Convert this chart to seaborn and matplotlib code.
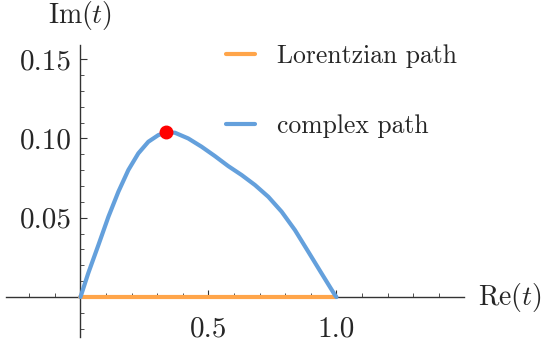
import numpy as np
import pandas as pd
import matplotlib
matplotlib.use("Agg")
import matplotlib.pyplot as plt
import seaborn as sns

# Curve
re_t = [0.0, 0.030, 0.070, 0.109, 0.148, 0.187, 0.226, 0.265, 0.304, 0.334, 0.369,
        0.421, 0.473, 0.525, 0.577, 0.630, 0.682, 0.734, 0.786, 0.838, 0.890,
        0.942, 0.994, 1.0]
im_t = [0.0, 0.0149, 0.0328, 0.0506, 0.0664, 0.0801, 0.0906, 0.0979, 0.1021, 0.1038,
        0.1036, 0.1000, 0.0948, 0.0889, 0.0826, 0.0769, 0.0706, 0.0632, 0.0538,
        0.0422, 0.0286, 0.0149, 0.0013, 0.0]
lor_re = [0.0, 1.0]
lor_im = [0.0, 0.0]
peak = (0.334, 0.1038)

xticks = [0.5, 1.0]
xticklabels = ["0.5", "1.0"]
yticks = [0.05, 0.10, 0.15]
yticklabels = ["0.05", "0.10", "0.15"]

sns.set_style("white")
plt.rcParams["font.family"] = ["cmr10", "DejaVu Serif"]
plt.rcParams["mathtext.fontset"] = "cm"
plt.rcParams["axes.formatter.use_mathtext"] = True

fig = plt.figure(figsize=(5.46, 3.47), dpi=100)
ax = fig.add_axes([0.0115, 0.0297, 0.839, 0.841])

orange = "#FFA54A"
blue = "#64A0DC"

lor = pd.DataFrame({"x": lor_re, "y": lor_im})
cpx = pd.DataFrame({"x": re_t, "y": im_t})
sns.lineplot(data=lor, x="x", y="y", ax=ax, color=orange, lw=3,
             label="Lorentzian path", sort=False, zorder=3)
sns.lineplot(data=cpx, x="x", y="y", ax=ax, color=blue, lw=3,
             label="complex path", sort=False, zorder=4,
             solid_joinstyle="round", solid_capstyle="round")
ax.plot([peak[0]], [peak[1]], "o", color="#FF0000", ms=9, zorder=5)

ax.set_xlim(-0.29, 1.5)
ax.set_ylim(-0.025, 0.159)

for s in ["top", "right"]:
    ax.spines[s].set_visible(False)
for s in ["left", "bottom"]:
    ax.spines[s].set_position(("data", 0))
    ax.spines[s].set_color("#333333")
    ax.spines[s].set_linewidth(1.0)

ax.set_xticks(xticks)
ax.set_xticklabels(xticklabels)
ax.set_yticks(yticks)
ax.set_yticklabels(yticklabels)
ax.set_xticks([v for v in np.round(np.arange(-0.2, 1.45, 0.1), 2) if v not in (0.0, 0.5, 1.0)], minor=True)
ax.set_yticks([v for v in np.round(np.arange(-0.02, 0.16, 0.01), 3) if v not in (0.0, 0.05, 0.1, 0.15)], minor=True)
ax.tick_params(axis="both", which="both", bottom=True, left=True, top=False, right=False)
ax.tick_params(axis="both", which="major", direction="in", length=5, width=0.8,
               color="#333333", labelsize=21)
ax.tick_params(axis="both", which="minor", direction="in", length=3, width=0.6,
               color="#333333")
ax.tick_params(axis="x", which="major", pad=14)
ax.tick_params(axis="y", which="major", pad=6)
ax.set_xlabel("")
ax.set_ylabel("")

ax.annotate(r"$\mathrm{Im}(t)$", xy=(0, 1), xycoords=("data", "axes fraction"),
            xytext=(0, 21), textcoords="offset points", ha="center", va="center",
            fontsize=20)
ax.annotate(r"$\mathrm{Re}(t)$", xy=(1, 0), xycoords=("axes fraction", "data"),
            xytext=(10, 0), textcoords="offset points", ha="left", va="center",
            fontsize=20)

ax.legend(loc="upper left", bbox_to_anchor=(226 / 546, 1 - 44 / 347),
          bbox_transform=fig.transFigure, frameon=False, fontsize=18.5,
          borderpad=0, borderaxespad=0, labelspacing=1.8, handlelength=1.13,
          handletextpad=0.86)

fig.savefig("out.png", dpi=100)
